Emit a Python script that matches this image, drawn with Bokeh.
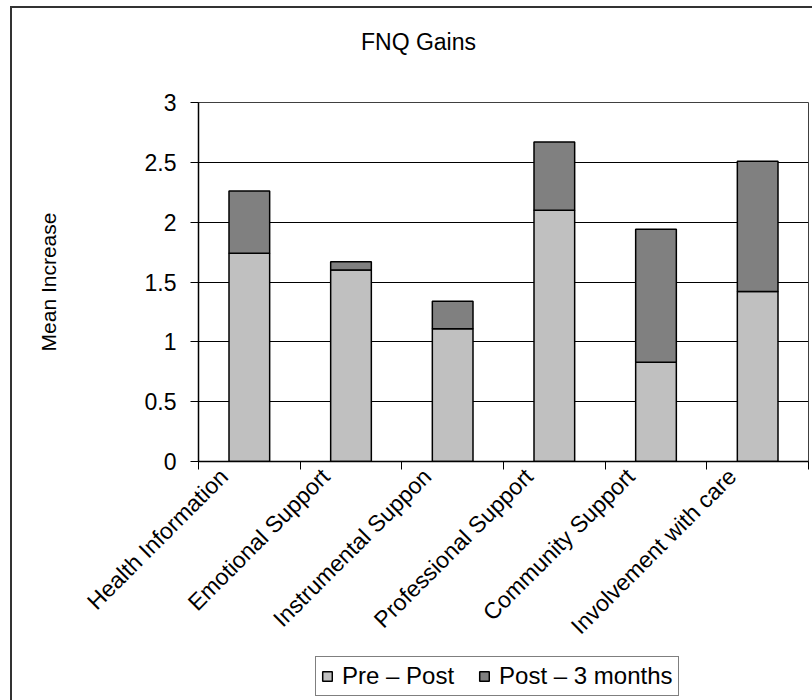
import math
from bokeh.plotting import figure
from bokeh.layouts import column
from bokeh.models import (ColumnDataSource, FixedTicker, Legend, LegendItem,
                          NumeralTickFormatter, Range1d, LinearAxis, Label)
from bokeh.embed import file_html
from bokeh.resources import INLINE

# FNQ domains and mean gains for the two follow-up intervals
categories = ["Health Information", "Emotional Support", "Instrumental Suppon",
              "Professional Support", "Community Support", "Involvement with care"]
pre_post = [1.74, 1.60, 1.11, 2.10, 0.83, 1.42]
post_3_months = [0.52, 0.07, 0.23, 0.57, 1.11, 1.09]
series_names = ["Pre \u2013 Post", "Post \u2013 3 months"]
series_colors = ["#C0C0C0", "#808080"]
y_ticks = [0, 0.5, 1, 1.5, 2, 2.5, 3]
chart_title = "FNQ Gains"

FONT = "Liberation Sans"
W = 800
BORDER_L, BORDER_R = 186, 4
FRAME_W = W - BORDER_L - BORDER_R   # strips below/above share this frame width
n = len(categories)
centers = [i + 0.5 for i in range(n)]
bounds = [float(i) for i in range(n + 1)]
label_shift = 0.25  # category labels end a little left of the bar centre


def strip_figure(height):
    """A plain figure used for the title and legend strips (pixel-unit ranges)."""
    f = figure(width=W, height=height, output_backend="svg", toolbar_location=None,
               x_range=Range1d(0, FRAME_W), y_range=Range1d(0, height),
               x_axis_type=None, y_axis_type=None,
               min_border_left=BORDER_L, min_border_right=BORDER_R,
               min_border_top=0, min_border_bottom=0)
    f.outline_line_color = None
    f.grid.visible = False
    f.background_fill_color = "white"
    f.border_fill_color = "white"
    return f


# ---- title strip (title centred over the whole chart area) ----
TH = 62
tfig = strip_figure(TH)
tfig.add_layout(Label(x=220, y=TH - 33, text=chart_title, text_align="center",
                      text_baseline="middle", text_font=FONT,
                      text_font_size="23px", text_color="black"))

# ---- main chart ----
src = ColumnDataSource(dict(x=centers, pre=pre_post, post=post_3_months))

p = figure(width=W, height=585, output_backend="svg", toolbar_location=None,
           x_range=Range1d(0, n), y_range=Range1d(0, 3),
           min_border_left=BORDER_L, min_border_right=BORDER_R,
           min_border_top=32, min_border_bottom=194,
           x_axis_type=None, y_axis_type="linear")
p.background_fill_color = "white"
p.border_fill_color = "white"
p.outline_line_color = "#404040"
p.outline_line_width = 1

rs = p.vbar_stack(["pre", "post"], x="x", width=0.4, source=src,
                  fill_color=series_colors, line_color="black", line_width=1.5)

yax = p.yaxis[0]
yax.ticker = FixedTicker(ticks=y_ticks)
yax.formatter = NumeralTickFormatter(format="0.[0]")
yax.axis_line_color = "black"
yax.axis_line_width = 1.5
yax.major_tick_out = 8
yax.major_tick_in = 0
yax.minor_tick_line_color = None
yax.major_label_standoff = 14
yax.major_label_text_font = FONT
yax.major_label_text_font_size = "23px"
yax.major_label_text_color = "black"
yax.axis_label = "Mean Increase"
yax.axis_label_text_font = FONT
yax.axis_label_text_font_size = "21px"
yax.axis_label_text_font_style = "normal"
yax.axis_label_text_color = "black"
yax.axis_label_standoff = 82

p.ygrid.ticker = FixedTicker(ticks=y_ticks)
p.ygrid.grid_line_color = "black"
p.ygrid.grid_line_width = 1

# x axis: boundary ticks drawn as minor ticks, rotated names as major labels
label_pos = [c - label_shift for c in centers]
xax = LinearAxis(ticker=FixedTicker(ticks=label_pos, minor_ticks=bounds))
xax.major_label_overrides = {v: name for v, name in zip(label_pos, categories)}
xax.major_tick_out = 0
xax.major_tick_in = 0
xax.major_tick_line_color = None
xax.minor_tick_out = 8
xax.minor_tick_in = 0
xax.minor_tick_line_color = "black"
xax.axis_line_color = "black"
xax.axis_line_width = 1.5
xax.major_label_orientation = math.pi / 4
xax.major_label_standoff = 3
xax.major_label_text_font = FONT
xax.major_label_text_font_size = "23px"
xax.major_label_text_color = "black"
p.add_layout(xax, "below")

# ---- legend strip ----
LH = 45
lf = strip_figure(LH)
# one undrawable point per series: the renderers exist only to supply legend swatches
nan = float("nan")
swatches = [lf.vbar(x="x", top="top", width=1,
                    source=ColumnDataSource(dict(x=[nan], top=[nan])),
                    fill_color=c, line_color="black", line_width=1.5)
            for c in series_colors]
legend = Legend(items=[LegendItem(label=name, renderers=[r])
                       for name, r in zip(series_names, swatches)],
                orientation="horizontal", location=(117, 4))
legend.border_line_color = "black"
legend.border_line_width = 1
legend.padding = 5
legend.spacing = 24
legend.margin = 0
legend.glyph_width = 12
legend.glyph_height = 12
legend.label_height = 24
legend.label_standoff = 9
legend.label_text_font = FONT
legend.label_text_font_size = "24px"
legend.label_text_line_height = 1.0
legend.label_text_color = "black"
legend.background_fill_color = "white"
lf.add_layout(legend)

layout = column(tfig, p, lf, spacing=0)
layout.styles = {"margin-left": "10px", "margin-top": "6px",
                 "border-left": "2px solid #333333",
                 "border-top": "2px solid #333333"}

open("out.html", "w").write(file_html(layout, INLINE))
